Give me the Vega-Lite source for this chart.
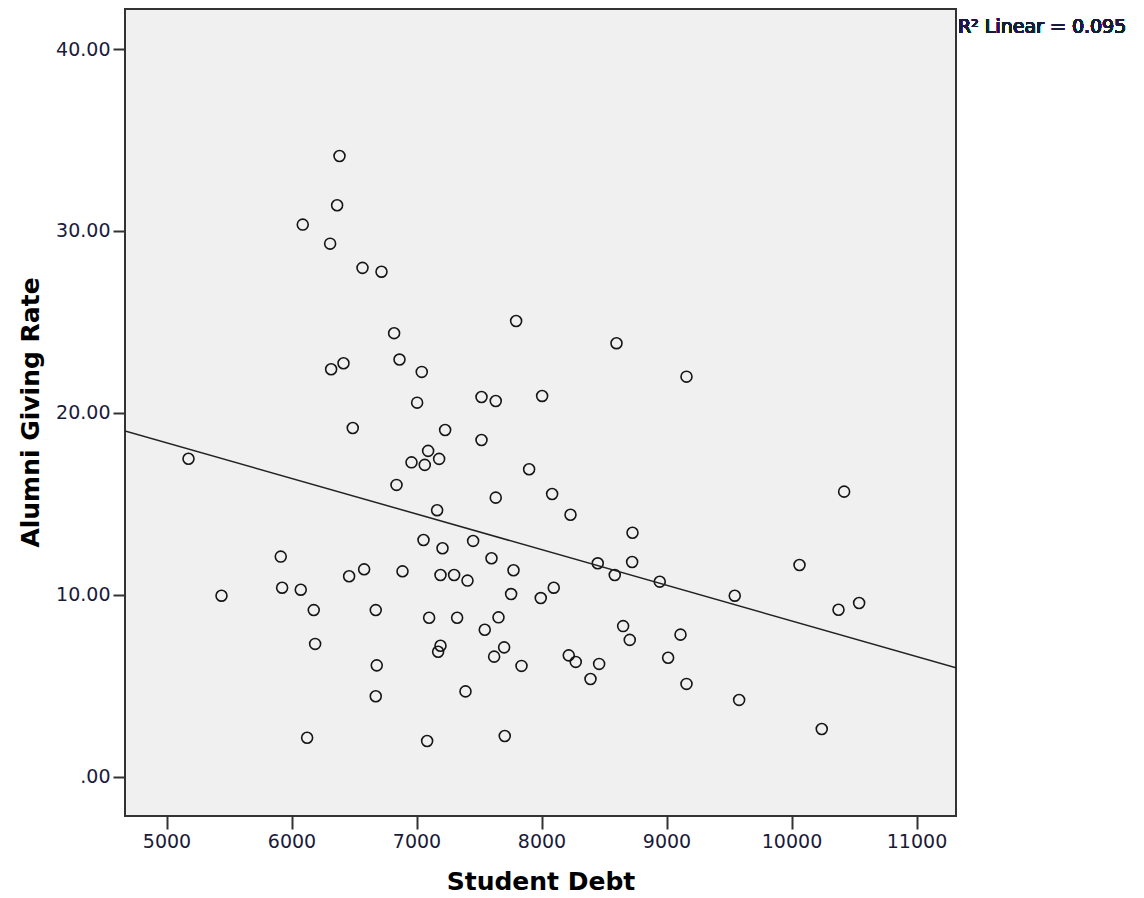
{
  "$schema": "https://vega.github.io/schema/vega-lite/v6.json",
  "width": 831,
  "height": 807,
  "autosize": {"type": "none"},
  "padding": {"left": 125, "top": 9, "right": 188, "bottom": 82},
  "background": "white",
  "config": {
    "view": {"fill": "#f0f0f0", "stroke": "#333333", "strokeWidth": 2},
    "axis": {
      "grid": false,
      "domain": false,
      "tickColor": "#333333",
      "tickWidth": 2,
      "labelFont": "DejaVu Sans",
      "labelFontSize": 19,
      "labelColor": "#1a1a3a",
      "titleFont": "DejaVu Sans",
      "titleFontWeight": "bold",
      "titleFontSize": 25,
      "titleColor": "#000000"
    }
  },
  "data": {
    "values": [
      {"debt": 6384, "rate": 34.12}, {"debt": 6365, "rate": 31.41}, {"debt": 6090, "rate": 30.35},
      {"debt": 6309, "rate": 29.30}, {"debt": 6568, "rate": 27.97}, {"debt": 6720, "rate": 27.76},
      {"debt": 6821, "rate": 24.38}, {"debt": 6864, "rate": 22.93}, {"debt": 6317, "rate": 22.40},
      {"debt": 6416, "rate": 22.73}, {"debt": 6490, "rate": 19.17},
      {"debt": 7042, "rate": 22.25}, {"debt": 7005, "rate": 20.56}, {"debt": 7797, "rate": 25.05},
      {"debt": 8600, "rate": 23.83}, {"debt": 7520, "rate": 20.87}, {"debt": 7634, "rate": 20.65},
      {"debt": 8005, "rate": 20.93}, {"debt": 7229, "rate": 19.06}, {"debt": 7520, "rate": 18.51},
      {"debt": 9160, "rate": 21.99},
      {"debt": 5176, "rate": 17.48}, {"debt": 6840, "rate": 16.04}, {"debt": 5914, "rate": 12.10},
      {"debt": 5925, "rate": 10.39}, {"debt": 6074, "rate": 10.28}, {"debt": 5440, "rate": 9.95},
      {"debt": 6178, "rate": 9.16}, {"debt": 6189, "rate": 7.30}, {"debt": 6461, "rate": 11.02},
      {"debt": 6581, "rate": 11.40}, {"debt": 6888, "rate": 11.29}, {"debt": 6674, "rate": 9.16},
      {"debt": 6682, "rate": 6.12}, {"debt": 6674, "rate": 4.42}, {"debt": 6125, "rate": 2.14},
      {"debt": 7093, "rate": 17.91}, {"debt": 6960, "rate": 17.28}, {"debt": 7066, "rate": 17.14},
      {"debt": 7181, "rate": 17.47}, {"debt": 7901, "rate": 16.90}, {"debt": 7634, "rate": 15.34},
      {"debt": 8085, "rate": 15.54}, {"debt": 8232, "rate": 14.40}, {"debt": 7165, "rate": 14.65},
      {"debt": 8728, "rate": 13.41}, {"debt": 7056, "rate": 13.01}, {"debt": 7208, "rate": 12.56},
      {"debt": 7453, "rate": 12.96}, {"debt": 7600, "rate": 12.01}, {"debt": 8725, "rate": 11.80},
      {"debt": 8450, "rate": 11.73}, {"debt": 8586, "rate": 11.09}, {"debt": 7192, "rate": 11.09},
      {"debt": 7301, "rate": 11.09}, {"debt": 7408, "rate": 10.78}, {"debt": 7776, "rate": 11.35},
      {"debt": 7757, "rate": 10.04}, {"debt": 7994, "rate": 9.82}, {"debt": 8098, "rate": 10.39},
      {"debt": 7101, "rate": 8.74}, {"debt": 7325, "rate": 8.74}, {"debt": 7656, "rate": 8.76},
      {"debt": 7546, "rate": 8.08}, {"debt": 7192, "rate": 7.20}, {"debt": 7173, "rate": 6.87},
      {"debt": 7701, "rate": 7.11}, {"debt": 7621, "rate": 6.60}, {"debt": 7840, "rate": 6.09},
      {"debt": 8218, "rate": 6.67}, {"debt": 8274, "rate": 6.31}, {"debt": 8461, "rate": 6.20},
      {"debt": 8392, "rate": 5.37}, {"debt": 8653, "rate": 8.28}, {"debt": 8706, "rate": 7.52},
      {"debt": 7392, "rate": 4.69}, {"debt": 7085, "rate": 1.96}, {"debt": 7706, "rate": 2.24},
      {"debt": 10421, "rate": 15.67}, {"debt": 8946, "rate": 10.72}, {"debt": 9546, "rate": 9.95},
      {"debt": 10064, "rate": 11.64}, {"debt": 10376, "rate": 9.18}, {"debt": 10541, "rate": 9.55},
      {"debt": 9112, "rate": 7.81}, {"debt": 9013, "rate": 6.54}, {"debt": 9160, "rate": 5.10},
      {"debt": 9581, "rate": 4.22}, {"debt": 10242, "rate": 2.62}
    ]
  },
  "layer": [
    {
      "mark": {"type": "point", "shape": "circle", "filled": false, "size": 120, "strokeWidth": 1.6, "color": "#151515", "opacity": 1},
      "encoding": {
        "x": {
          "field": "debt", "type": "quantitative",
          "scale": {"domain": [4668, 11316], "nice": false, "zero": false},
          "axis": {"values": [5000, 6000, 7000, 8000, 9000, 10000, 11000], "format": "d", "tickSize": 13, "labelPadding": 3, "title": "Student Debt", "titleY": 65, "titleBaseline": "middle"}
        },
        "y": {
          "field": "rate", "type": "quantitative",
          "scale": {"domain": [-2.16, 42.2], "nice": false, "zero": false},
          "axis": {"values": [0, 10, 20, 30, 40], "tickSize": 12, "labelPadding": 3, "labelExpr": "datum.value == 0 ? '.00' : format(datum.value, '.2f')", "title": "Alumni Giving Rate", "titleX": -95, "titleY": 403, "titleBaseline": "middle", "titleAngle": -90}
        }
      }
    },
    {
      "transform": [{"regression": "rate", "on": "debt", "extent": [4668, 11316]}],
      "mark": {"type": "line", "color": "#222222", "strokeWidth": 1.5, "clip": true},
      "encoding": {
        "x": {"field": "debt", "type": "quantitative"},
        "y": {"field": "rate", "type": "quantitative"}
      }
    },
    {
      "mark": {"type": "text", "text": "R² Linear = 0.095", "align": "left", "baseline": "middle", "dx": 2, "font": "DejaVu Sans", "fontSize": 19, "color": "#1a1a3a"},
      "encoding": {
        "x": {"datum": 11316, "type": "quantitative"},
        "y": {"datum": 41.2, "type": "quantitative"}
      }
    }
  ]
}
